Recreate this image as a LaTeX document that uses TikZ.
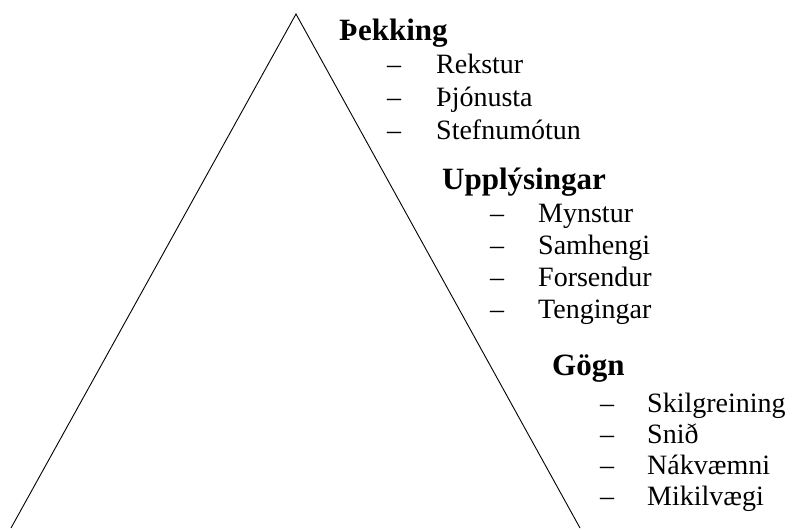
\documentclass[tikz,border=0pt]{standalone}
\usepackage{fontspec}
\setmainfont{Liberation Serif}
\usetikzlibrary{calc}

\tikzset{
	head/.style = {anchor=base west, inner sep=0pt, font=\fontsize{31}{37}\selectfont\bfseries},
	item/.style = {anchor=base west, inner sep=0pt, font=\fontsize{28}{34}\selectfont}
}

\begin{document}
\begin{tikzpicture}[x=1pt, y=-1pt]
		\useasboundingbox (0,0) rectangle (785,528);
		
		\coordinate (apex) at (296,14);
		\coordinate (bl) at (11,528);
		\coordinate (br) at (580,528);
		
		\draw[line width=0.9pt] (bl) -- (apex) -- (br);
		
		% Þekking
		\node[head] (thekking) at (339,40) {Þekking};
		\foreach \txt [count=\i] in {Rekstur, Þjónusta, Stefnumótun}
			\node[item] (thek-\i) at (387,{73+33*(\i-1)}) {\makebox[49pt][l]{–}\txt};
		
		% Upplýsingar
		\node[head] (upplysingar) at (442,189) {Upplýsingar};
		\foreach \txt [count=\i] in {Mynstur, Samhengi, Forsendur, Tengingar}
			\node[item] (upp-\i) at (490,{222+32*(\i-1)}) {\makebox[48pt][l]{–}\txt};
		
		% Gögn
		\node[head] (gogn) at (552,375) {Gögn};
		\foreach \txt [count=\i] in {Skilgreining, Snið, Nákvæmni, Mikilvægi}
			\node[item] (gogn-\i) at (600,{412+31*(\i-1)}) {\makebox[47pt][l]{–}\txt};
	\end{tikzpicture}
\end{document}
